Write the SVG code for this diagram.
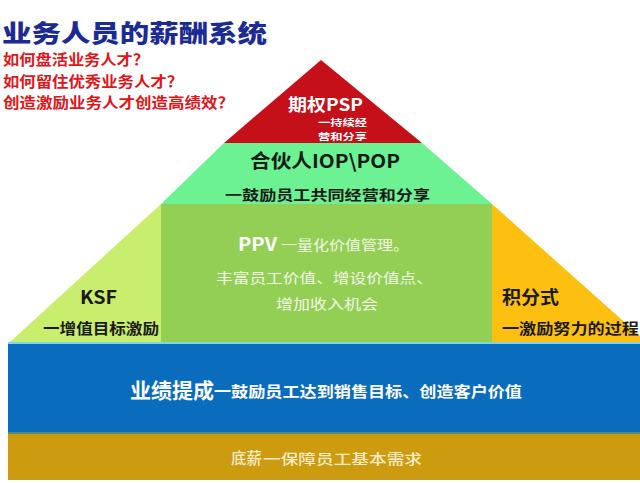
<svg xmlns="http://www.w3.org/2000/svg" width="640" height="483" viewBox="0 0 640 483">
<style>
text{font-family:"Noto Sans CJK SC","Noto Sans",sans-serif;}
.title{font-size:24px;font-weight:900;fill:#1c2b94;}
.q{font-size:14.5px;font-weight:700;fill:#e0161a;}
.dk{fill:#1a1a1a;font-weight:700;}
.wt{fill:#ffffff;font-weight:700;}
.lt{fill:#f2f7e6;}
.gd{fill:#f8ecc8;}
</style>
<rect x="0" y="0" width="640" height="483" fill="#ffffff"/>
<g id="header">
<text class="title" x="2" y="42" textLength="265" lengthAdjust="spacingAndGlyphs">业务人员的薪酬系统</text>
<text class="q" x="3" y="65" textLength="146" lengthAdjust="spacingAndGlyphs">如何盘活业务人才？</text>
<text class="q" x="3" y="86.5" textLength="180" lengthAdjust="spacingAndGlyphs">如何留住优秀业务人才？</text>
<text class="q" x="3" y="108" textLength="231" lengthAdjust="spacingAndGlyphs">创造激励业务人才创造高绩效？</text>
</g>
<g id="psp">
<polygon points="321,60 224,143 422,143" fill="#c5101a"/>
<text class="wt" x="288" y="111" font-size="17" textLength="75" lengthAdjust="spacingAndGlyphs">期权PSP</text>
<text class="wt" x="318" y="126" font-size="9" fill="#f5e6e6" textLength="49" lengthAdjust="spacingAndGlyphs">一持续经</text>
<text class="wt" x="318" y="140" font-size="9" fill="#f5e6e6" textLength="49" lengthAdjust="spacingAndGlyphs">营和分享</text>
</g>
<g id="iop">
<polygon points="224,143 422,143 492,204 161,204" fill="#6cf293"/>
<text class="dk" x="250" y="168" font-size="19" textLength="150" lengthAdjust="spacingAndGlyphs">合伙人IOP\POP</text>
<text class="dk" x="225" y="200" font-size="14" textLength="205" lengthAdjust="spacingAndGlyphs">一鼓励员工共同经营和分享</text>
</g>
<g id="ksf">
<polygon points="161,204 161,342 10,342" fill="#c9ee6e"/>
<text class="dk" x="80" y="304" font-size="18" textLength="37" lengthAdjust="spacingAndGlyphs">KSF</text>
<text class="dk" x="43" y="334" font-size="14.5" textLength="116" lengthAdjust="spacingAndGlyphs">一增值目标激励</text>
</g>
<g id="ppv">
<rect x="161" y="204" width="331" height="138" fill="#93cf55"/>
<text class="wt" x="238" y="251" font-size="18" fill="#f4f9ec" textLength="39" lengthAdjust="spacingAndGlyphs">PPV</text>
<text class="lt" x="281" y="250" font-size="13.5" textLength="128" lengthAdjust="spacingAndGlyphs">一量化价值管理。</text>
<text class="lt" x="216" y="283" font-size="13.5" textLength="217" lengthAdjust="spacingAndGlyphs">丰富员工价值、增设价值点、</text>
<text class="lt" x="276" y="309" font-size="13.5" textLength="102" lengthAdjust="spacingAndGlyphs">增加收入机会</text>
</g>
<g id="points">
<polygon points="492,204 640,336 640,342 492,342" fill="#fdc010"/>
<text class="dk" x="502" y="304" font-size="18" textLength="57" lengthAdjust="spacingAndGlyphs">积分式</text>
<text class="dk" x="502" y="334" font-size="14.5" textLength="137" lengthAdjust="spacingAndGlyphs">一激励努力的过程</text>
</g>
<g id="commission">
<rect x="8" y="342" width="632" height="91" fill="#0a6cbd"/>
<rect x="8" y="342" width="632" height="2" fill="#7fd6e8"/>
<text class="wt" x="130" y="398" font-size="21" textLength="84" lengthAdjust="spacingAndGlyphs">业绩提成</text>
<text class="wt" x="214" y="397" font-size="15" font-weight="500" textLength="308" lengthAdjust="spacingAndGlyphs">一鼓励员工达到销售目标、创造客户价值</text>
</g>
<g id="base">
<rect x="8" y="433" width="632" height="47" fill="#cc9b10"/>
<rect x="8" y="432" width="632" height="2" fill="#4f8a7a"/>
<text class="gd" x="231" y="464" font-size="15.5" font-weight="500" textLength="31" lengthAdjust="spacingAndGlyphs">底薪</text>
<text class="gd" x="263" y="464" font-size="14" font-weight="500" textLength="159" lengthAdjust="spacingAndGlyphs">一保障员工基本需求</text>
</g>
</svg>
